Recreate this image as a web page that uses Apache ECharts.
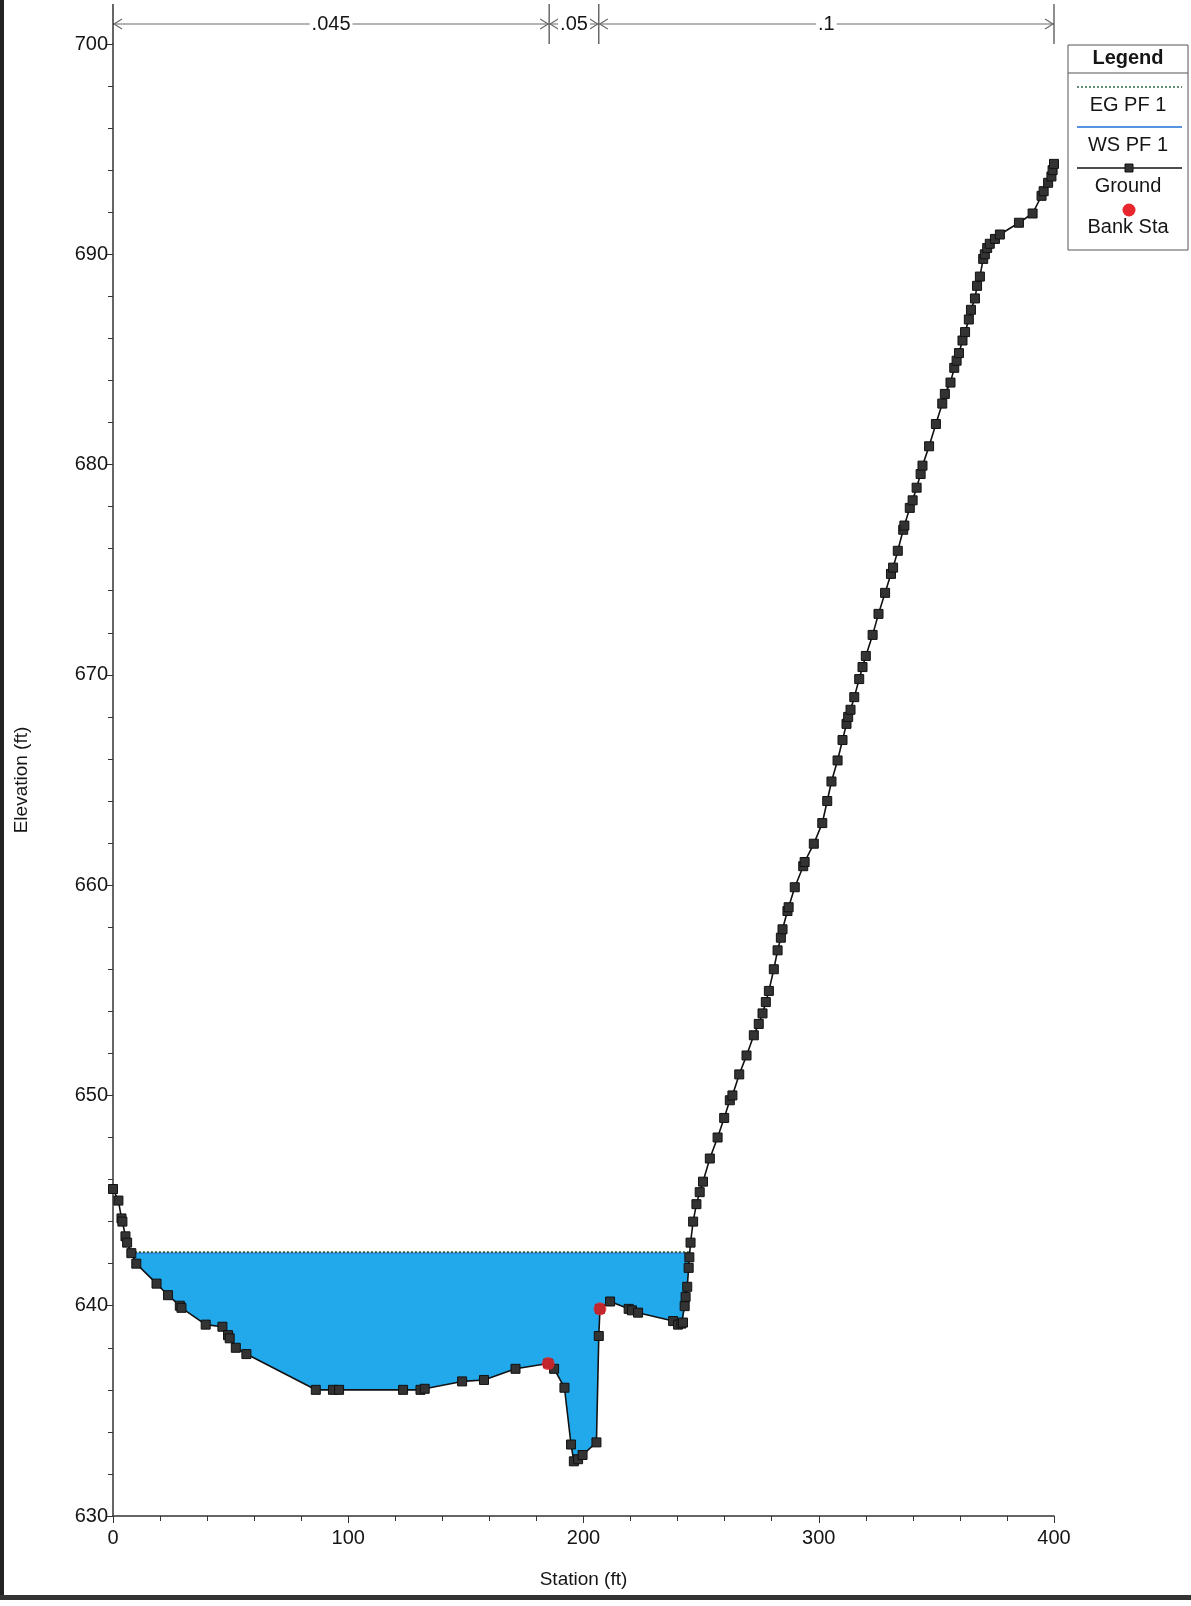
<!DOCTYPE html>
<html>
<head>
<meta charset="utf-8">
<script src="https://cdn.jsdelivr.net/npm/echarts@6/dist/echarts.min.js"></script>
<style>
html,body{margin:0;padding:0;background:#fff;}
#chart{width:1191px;height:1606px;}
</style>
</head>
<body>
<div id="chart"></div>
<script>
// ---- data ----
var groundStation = [0,2.3,3.6,4.0,5.3,6.0,7.8,9.9,18.5,23.4,28.4,29.1,39.4,46.5,48.9,49.6,52.2,56.7,86.2,93.5,96.1,123.3,130.7,132.5,148.4,157.7,171.1,185.0,187.5,191.9,194.7,195.9,197.7,199.6,205.5,206.5,207.0,211.3,219.2,220.6,223.2,238.1,240.2,241.6,242.3,243.0,243.4,244.1,244.7,245.0,245.5,246.6,248.0,249.4,250.8,253.7,257.0,259.8,262.2,263.3,266.2,269.3,272.4,274.5,276.1,277.5,278.8,280.9,282.5,283.9,284.6,286.7,287.2,289.8,293.4,294.0,297.9,301.5,303.6,305.4,308.0,310.1,311.8,312.5,313.5,315.1,317.2,318.6,320.0,322.9,325.4,328.2,330.7,331.6,333.6,335.9,336.4,338.7,339.9,341.6,343.3,344.1,346.9,349.8,352.5,353.6,356.0,357.6,358.6,359.6,361.1,362.2,363.8,364.7,366.4,367.3,368.5,369.9,370.6,371.6,372.7,374.9,377.0,385.1,390.9,394.7,395.6,397.5,398.9,399.4,400.0];
var groundElev = [645.55,645.0,644.15,644.0,643.3,643.0,642.5,642.0,641.05,640.5,640.0,639.9,639.1,639.0,638.6,638.45,638.0,637.7,636.0,636.0,636.0,636.0,636.0,636.05,636.4,636.47,637.0,637.25,637.0,636.1,633.4,632.6,632.7,632.9,633.5,638.56,639.85,640.2,639.85,639.78,639.67,639.27,639.1,639.15,639.2,639.98,640.42,640.9,641.8,642.3,643.0,644.0,644.83,645.4,645.9,647.0,648.0,648.93,649.77,650.0,651.0,651.9,652.86,653.4,653.9,654.44,654.97,656.0,656.9,657.5,657.9,658.77,658.95,659.9,660.9,661.1,661.97,662.95,664.0,664.93,665.93,666.9,667.67,668.0,668.34,668.94,669.8,670.37,670.9,671.9,672.9,673.9,674.8,675.1,675.9,676.9,677.1,677.94,678.3,678.9,679.55,679.95,680.87,681.93,682.9,683.36,683.9,684.6,684.94,685.3,685.9,686.3,686.9,687.36,687.9,688.5,688.94,689.78,690.0,690.3,690.5,690.73,690.94,691.5,691.94,692.78,693.0,693.4,693.7,694.0,694.3];
var bankStation = [185.0, 207.0];
var bankElev = [637.25, 639.85];
var wsElev = 642.5;
var egElev = 642.55;
var nStations = [0, 185.4, 206.5, 400];
var nValues = ['.045', '.05', '.1'];
var xTicks = [0, 100, 200, 300, 400];
var yTicks = [630, 640, 650, 660, 670, 680, 690, 700];

// ---- helpers ----
var groundData = groundStation.map(function (s, i) { return [s, groundElev[i]]; });
var bankData = bankStation.map(function (s, i) { return [s, bankElev[i]]; });

// water extent: where ground crosses the WS elevation
function crossings(level) {
  var left = null, right = null;
  for (var i = 0; i < groundData.length - 1; i++) {
    var a = groundData[i], b = groundData[i + 1];
    if (left === null && a[1] >= level && b[1] < level) {
      left = a[0] + (a[1] - level) / (a[1] - b[1]) * (b[0] - a[0]);
    }
    if (left !== null && a[1] < level && b[1] >= level) {
      right = a[0] + (level - a[1]) / (b[1] - a[1]) * (b[0] - a[0]);
      break;
    }
  }
  return [left, right];
}
var wsX = crossings(wsElev);
var egX = crossings(egElev);

var FONT = "'Liberation Sans', Arial, sans-serif";
var TXT = '#151515';
var chart = echarts.init(document.getElementById('chart'), null, {renderer: 'canvas'});

var option = {
  backgroundColor: '#ffffff',
  animation: false,
  grid: {left: 113, right: 137, top: 44, bottom: 90, containLabel: false},
  xAxis: {
    type: 'value', min: xTicks[0], max: xTicks[xTicks.length - 1], interval: 100,
    name: 'Station (ft)', nameLocation: 'middle', nameGap: 54,
    nameTextStyle: {fontFamily: FONT, fontSize: 19, color: TXT},
    axisLine: {show: true, onZero: false, lineStyle: {color: '#333', width: 1.5}},
    axisTick: {show: true, inside: false, length: 7, lineStyle: {color: '#333'}},
    minorTick: {show: true, splitNumber: 5, length: 5, lineStyle: {color: '#333'}},
    axisLabel: {fontFamily: FONT, fontSize: 20, color: TXT, margin: 12},
    splitLine: {show: false}
  },
  yAxis: {
    type: 'value', min: yTicks[0], max: yTicks[yTicks.length - 1], interval: 10,
    axisLine: {show: true, onZero: false, lineStyle: {color: '#333', width: 1.5}},
    axisTick: {show: true, inside: false, length: 7, lineStyle: {color: '#333'}},
    minorTick: {show: true, splitNumber: 5, length: 5, lineStyle: {color: '#333'}},
    axisLabel: {fontFamily: FONT, fontSize: 20, color: TXT, margin: 5},
    splitLine: {show: false}
  },
  series: [
    {
      // water fill polygon between WS and ground
      type: 'custom', name: 'water', z: 1, silent: true,
      data: [[wsX[0], wsElev]],
      renderItem: function (params, api) {
        var pts = [api.coord([wsX[0], wsElev])];
        groundData.forEach(function (p) {
          if (p[0] > wsX[0] && p[0] < wsX[1]) pts.push(api.coord(p));
        });
        pts.push(api.coord([wsX[1], wsElev]));
        return {type: 'polygon', shape: {points: pts}, style: {fill: '#22A9EC', stroke: null}};
      }
    },
    {
      type: 'line', name: 'WS PF 1', z: 2, silent: true,
      data: [[wsX[0], wsElev], [wsX[1], wsElev]],
      symbol: 'none', lineStyle: {color: '#1E6FD6', width: 1.2}
    },
    {
      type: 'line', name: 'EG PF 1', z: 3, silent: true,
      data: [[egX[0], egElev], [egX[1], egElev]],
      symbol: 'none', lineStyle: {color: '#1F5E3A', width: 1.6, type: [2, 2]}
    },
    {
      type: 'line', name: 'Ground', z: 4, silent: true,
      data: groundData,
      symbol: 'rect', symbolSize: [9, 9], showAllSymbol: true,
      itemStyle: {color: '#333333', borderColor: '#111111', borderWidth: 1},
      lineStyle: {color: '#111111', width: 1.6}
    },
    {
      type: 'scatter', name: 'Bank Sta', z: 5, silent: true,
      data: bankData, symbol: 'circle', symbolSize: 13,
      itemStyle: {color: '#E8262E'}
    },
    {
      // Manning's n annotations above the plot
      type: 'custom', name: 'nValues', z: 6, silent: true, clip: false,
      data: nValues.map(function (v, i) { return [nStations[i], nStations[i + 1]]; }),
      renderItem: function (params, api) {
        var i = params.dataIndex;
        var yLine = 700.95;
        var a = api.coord([nStations[i], yLine]);
        var b = api.coord([nStations[i + 1], yLine]);
        var top = api.coord([nStations[i + 1], 701.9]);
        var bot = api.coord([nStations[i + 1], 700]);
        var col = '#6a6a6a';
        var children = [
          {type: 'line', shape: {x1: a[0], y1: a[1], x2: b[0], y2: b[1]}, style: {stroke: col, lineWidth: 1.2}},
          {type: 'polyline', shape: {points: [[a[0] + 9, a[1] - 5], [a[0] + 1, a[1]], [a[0] + 9, a[1] + 5]]}, style: {stroke: col, lineWidth: 1.2, fill: null}},
          {type: 'polyline', shape: {points: [[b[0] - 9, b[1] - 5], [b[0] - 1, b[1]], [b[0] - 9, b[1] + 5]]}, style: {stroke: col, lineWidth: 1.2, fill: null}},
          {type: 'line', shape: {x1: top[0], y1: top[1], x2: bot[0], y2: bot[1]}, style: {stroke: '#444', lineWidth: 1.2}},
          {type: 'text', x: (a[0] + b[0]) / 2, y: a[1],
            style: {text: nValues[i], fontFamily: FONT, fontSize: 20, fill: TXT, align: 'center', verticalAlign: 'middle',
              backgroundColor: '#ffffff', padding: [1, 2]}}
        ];
        if (i === 0) {
          var t0 = api.coord([nStations[0], 701.9]);
          var b0 = api.coord([nStations[0], 700]);
          children.push({type: 'line', shape: {x1: t0[0], y1: t0[1], x2: b0[0], y2: b0[1]}, style: {stroke: '#333', lineWidth: 1.5}});
        }
        return {type: 'group', children: children};
      }
    }
  ],
  graphic: [
    // scanned page borders
    {type: 'rect', shape: {x: 0, y: 0, width: 4, height: 1598}, style: {fill: '#222'}, z: 100},
    {type: 'rect', shape: {x: 0, y: 1595, width: 1191, height: 5}, style: {fill: '#333'}, z: 100},
    // y axis title (centered on 630-700 range)
    {type: 'text', x: 22, y: 780, rotation: Math.PI / 2,
      style: {text: 'Elevation (ft)', fontFamily: FONT, fontSize: 19, fill: TXT, align: 'center', verticalAlign: 'middle'}},
    // legend box
    {type: 'group', z: 100, children: [
      {type: 'rect', shape: {x: 1068, y: 45, width: 120, height: 205}, style: {fill: '#fff', stroke: '#555', lineWidth: 1}},
      {type: 'line', shape: {x1: 1068, y1: 73, x2: 1188, y2: 73}, style: {stroke: '#555', lineWidth: 1}},
      {type: 'text', x: 1128, y: 58, style: {text: 'Legend', fontFamily: FONT, fontSize: 20, fontWeight: 'bold', fill: TXT, align: 'center', verticalAlign: 'middle'}},
      {type: 'line', shape: {x1: 1077, y1: 87, x2: 1182, y2: 87}, style: {stroke: '#1F5E3A', lineWidth: 1.4, lineDash: [2, 2]}},
      {type: 'text', x: 1128, y: 105, style: {text: 'EG PF 1', fontFamily: FONT, fontSize: 20, fill: TXT, align: 'center', verticalAlign: 'middle'}},
      {type: 'line', shape: {x1: 1077, y1: 127, x2: 1182, y2: 127}, style: {stroke: '#1E6FD6', lineWidth: 1.4}},
      {type: 'text', x: 1128, y: 145, style: {text: 'WS PF 1', fontFamily: FONT, fontSize: 20, fill: TXT, align: 'center', verticalAlign: 'middle'}},
      {type: 'line', shape: {x1: 1077, y1: 168, x2: 1182, y2: 168}, style: {stroke: '#111', lineWidth: 1.4}},
      {type: 'rect', shape: {x: 1125, y: 164, width: 8, height: 8}, style: {fill: '#333', stroke: '#111', lineWidth: 1}},
      {type: 'text', x: 1128, y: 186, style: {text: 'Ground', fontFamily: FONT, fontSize: 20, fill: TXT, align: 'center', verticalAlign: 'middle'}},
      {type: 'circle', shape: {cx: 1129, cy: 210, r: 6.5}, style: {fill: '#E8262E'}},
      {type: 'text', x: 1128, y: 227, style: {text: 'Bank Sta', fontFamily: FONT, fontSize: 20, fill: TXT, align: 'center', verticalAlign: 'middle'}}
    ]}
  ]
};
chart.setOption(option);
</script>
</body>
</html>
